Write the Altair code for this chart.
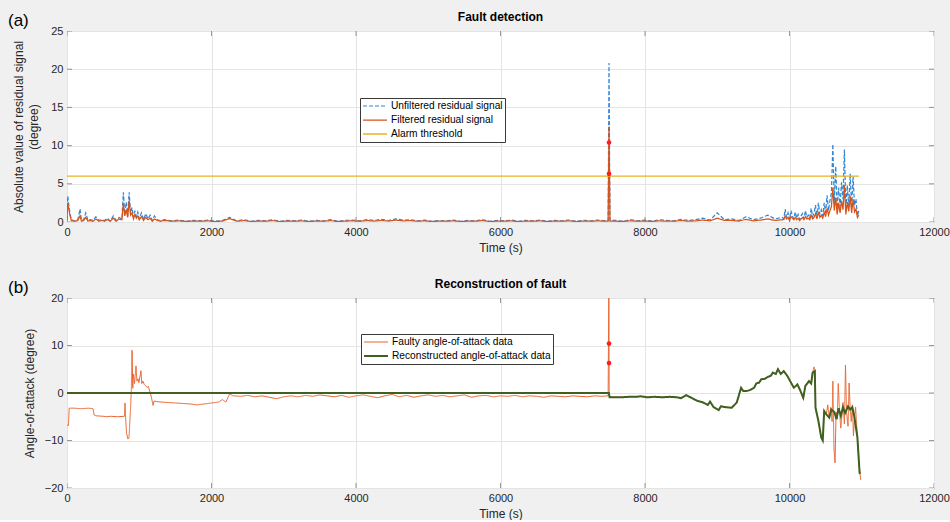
import altair as alt
import pandas as pd

FONT = "Liberation Sans"

# ---------------- (a) Fault detection : residual signals ----------------
res_time = [
    0, 10, 20, 40, 60, 90, 120, 150, 180, 200, 230, 260, 290, 320, 360, 400, 440, 480, 520, 560,
    600, 640, 680, 720, 760, 780, 800, 820, 840, 860, 880, 900, 920, 940, 960, 980, 1000, 1030, 1060, 1090,
    1120, 1150, 1180, 1210, 1250, 1290,
    1350, 1450, 1550, 1650, 1750, 1850, 1950, 2050, 2150, 2250, 2350, 2450, 2550, 2650, 2750, 2850, 2950,
    3050, 3150, 3250, 3350, 3450, 3550, 3650, 3750, 3850, 3950, 4050, 4150, 4250, 4350, 4450, 4550, 4650,
    4750, 4850, 4950, 5050, 5150, 5250, 5350, 5450, 5550, 5650, 5750, 5850, 5950, 6050, 6150, 6250, 6350,
    6450, 6550, 6650, 6750, 6850, 6950, 7050, 7150, 7250, 7350, 7450,
    7490, 7502, 7515,
    7600, 7700, 7800, 7900, 8000, 8100, 8200, 8300, 8400, 8500, 8600, 8700, 8800, 8900, 9000, 9100, 9200,
    9300, 9400, 9500, 9600, 9700, 9800, 9900,
    9920, 9940, 9960, 9980, 10000, 10020, 10040, 10060, 10080, 10100, 10120, 10140, 10160, 10180, 10200,
    10220, 10240, 10260, 10280, 10300, 10320, 10340, 10360, 10380, 10400, 10420, 10440, 10460, 10480, 10500,
    10520, 10540, 10560, 10580, 10600, 10620, 10640, 10660, 10680, 10700, 10720, 10740, 10760, 10780, 10800,
    10820, 10840, 10860, 10880, 10900, 10920, 10940, 10960,
]
res_unfiltered = [
    0.3, 3.4, 2.6, 1.2, 0.3, 0.2, 0.1, 0.3, 1.7, 0.2, 0.3, 1.2, 0.2, 0.3, 0.2, 0.7, 0.2, 0.3, 0.2, 0.5,
    0.1, 0.8, 0.2, 0.6, 0.4, 3.9, 1.0, 2.6, 0.8, 3.9, 1.2, 1.9, 0.6, 1.5, 0.7, 1.3, 0.4, 1.2, 0.3, 1.1,
    0.4, 0.9, 0.2, 0.8, 0.3, 0.2,
    0.3, 0.15, 0.25, 0.1, 0.2, 0.15, 0.25, 0.1, 0.2, 0.6, 0.15, 0.3, 0.1, 0.2, 0.15, 0.3, 0.1,
    0.2, 0.15, 0.25, 0.1, 0.2, 0.15, 0.3, 0.1, 0.2, 0.25, 0.15, 0.3, 0.2, 0.35, 0.2, 0.4, 0.25,
    0.3, 0.15, 0.25, 0.1, 0.2, 0.15, 0.25, 0.1, 0.2, 0.15, 0.3, 0.1, 0.2, 0.15, 0.25, 0.1, 0.2,
    0.15, 0.25, 0.1, 0.2, 0.15, 0.25, 0.1, 0.2, 0.15, 0.25, 0.15,
    0.2, 20.8, 0.2,
    0.2, 0.1, 0.3, 0.15, 0.25, 0.1, 0.3, 0.2, 0.15, 0.35, 0.2, 0.3, 0.5, 0.25, 1.2, 0.3, 0.4,
    0.2, 0.7, 0.3, 0.5, 0.9, 0.4, 0.6,
    0.4, 1.7, 0.6, 1.2, 0.3, 1.5, 0.8, 0.4, 1.3, 0.5, 1.0, 0.3, 0.8, 1.1, 0.4,
    1.5, 0.6, 0.9, 0.5, 1.8, 0.7, 1.2, 2.2, 0.6, 2.5, 1.0, 1.6, 0.8, 2.5, 1.2,
    3.5, 1.5, 2.8, 3.8, 10.2, 2.5, 7.3, 1.8, 4.5, 2.0, 5.2, 3.0, 9.5, 1.5, 4.8,
    2.0, 6.3, 1.8, 6.0, 2.2, 3.0, 0.8, 1.5,
]
res_filtered = [
    0.2, 2.5, 2.0, 0.9, 0.2, 0.1, 0.1, 0.2, 0.8, 0.1, 0.2, 0.6, 0.1, 0.2, 0.1, 0.4, 0.1, 0.2, 0.1, 0.3,
    0.1, 0.5, 0.1, 0.4, 0.3, 2.4, 0.8, 1.6, 0.6, 2.8, 0.9, 1.2, 0.4, 1.0, 0.5, 0.8, 0.3, 0.7, 0.2, 0.6,
    0.3, 0.5, 0.1, 0.4, 0.2, 0.1,
    0.2, 0.1, 0.15, 0.08, 0.12, 0.1, 0.15, 0.06, 0.12, 0.45, 0.1, 0.18, 0.06, 0.12, 0.1, 0.18, 0.06,
    0.12, 0.1, 0.15, 0.06, 0.12, 0.1, 0.18, 0.06, 0.12, 0.15, 0.1, 0.18, 0.12, 0.2, 0.12, 0.25, 0.15,
    0.18, 0.1, 0.15, 0.06, 0.12, 0.1, 0.15, 0.06, 0.12, 0.1, 0.18, 0.06, 0.12, 0.1, 0.15, 0.06, 0.12,
    0.1, 0.15, 0.06, 0.12, 0.1, 0.15, 0.06, 0.12, 0.1, 0.15, 0.1,
    0.12, 12.5, 0.12,
    0.1, 0.08, 0.15, 0.1, 0.12, 0.08, 0.15, 0.1, 0.1, 0.2, 0.1, 0.15, 0.25, 0.15, 0.5, 0.2, 0.2,
    0.12, 0.35, 0.15, 0.25, 0.4, 0.2, 0.3,
    0.3, 0.8, 0.4, 0.6, 0.2, 0.7, 0.5, 0.3, 0.6, 0.3, 0.5, 0.2, 0.4, 0.6, 0.3,
    0.7, 0.4, 0.5, 0.3, 0.9, 0.4, 0.6, 1.1, 0.4, 1.3, 0.6, 0.9, 0.5, 1.3, 0.7,
    1.8, 0.9, 1.5, 2.0, 4.5, 1.5, 3.2, 1.0, 2.5, 1.2, 2.8, 1.6, 4.8, 1.0, 2.6,
    1.4, 3.4, 1.2, 3.0, 1.3, 1.7, 0.6, 0.9,
]
threshold_time = [0, 10960]
threshold_value = [6, 6]

# red fault markers (same instant in both panels)
marker_time = [7502, 7502]
marker_value = [10.4, 6.3]

# ---------------- (b) Reconstruction of fault : angle of attack ----------------
faulty_time = [
    0, 20, 30, 100, 200, 300, 360, 375, 400, 500, 550, 600, 700, 795, 803, 812, 825, 844, 858, 870,
    880, 890, 900, 910, 920, 935, 955, 968, 982, 995, 1024, 1035, 1050, 1070, 1090, 1110, 1125, 1150,
    1170, 1190, 1204, 1240, 1300, 1400, 1500, 1600, 1700, 1800, 1900, 2000, 2100, 2150, 2200, 2250, 2300,
    2400, 2500, 2600, 2700, 2800, 2900, 3000, 3100, 3200, 3300, 3400, 3500, 3600, 3700, 3800, 3900,
    4000, 4100, 4200, 4300, 4400, 4500, 4600, 4700, 4800, 4900, 5000, 5100, 5200, 5300, 5400, 5500,
    5600, 5700, 5800, 5900, 6000, 6100, 6200, 6300, 6400, 6500, 6600, 6700, 6800, 6900, 7000, 7100,
    7200, 7300, 7400,
    7490, 7500, 7505,
    7600, 7680, 7780, 7880, 7940, 8030, 8130, 8240, 8340, 8440, 8500, 8570, 8640, 8730, 8790, 8870,
    8900, 8950, 9020, 9050, 9120, 9200, 9270, 9330, 9360, 9400, 9450, 9510, 9540, 9580, 9610, 9660,
    9700, 9740, 9770, 9810, 9840, 9880, 9920, 9970, 10020, 10060, 10110, 10150, 10190, 10220, 10270,
    10300, 10320, 10340, 10355, 10360, 10400, 10440, 10460, 10480, 10510, 10530, 10550, 10570, 10590,
    10600, 10615, 10630, 10645, 10660, 10675, 10690, 10710, 10725, 10740, 10760, 10775, 10790, 10810,
    10825, 10840, 10855, 10870, 10885, 10900, 10915, 10940, 10960, 10985,
]
faulty_value = [
    -6.8, -6.8, -3.2, -3.2, -3.3, -3.2, -3.3, -4.6, -4.8, -4.9, -5.0, -4.9, -5.0, -4.9, -2.1, -5.5,
    -8.5, -9.7, -9.4, -6.0, -3.0, 0.5, 9.0, 1.0, 4.0, 2.0, 5.7, 2.5, 3.0, 2.2, 4.7, 2.0, 2.5, 1.8,
    1.5, 1.2, 1.4, 0.2, -1.0, -2.6, -1.7, -1.8, -1.9, -2.0, -2.1, -2.2, -2.3, -2.5, -2.3, -2.1, -1.9,
    -1.4, -1.9, -0.2, -0.6,
    -0.7, -0.5, -0.8, -0.6, -0.9, -1.2, -0.8, -0.6, -0.8, -0.5, -0.7, -0.4, -0.6, -0.8, -0.5, -0.9,
    -0.6, -0.4, -0.7, -1.0, -0.6, -0.3, -0.8, -0.5, -0.9, -0.6, -0.4, -0.7, -0.5, -0.8, -0.6, -0.4,
    -0.9, -0.6, -0.5, -0.8, -0.6, -0.7, -0.5, -0.8, -0.6, -0.7, -0.9, -0.6, -0.7, -0.8, -0.6, -0.7,
    -0.8, -0.6, -0.7,
    -0.6, 25.0, -0.8,
    -0.9, -0.9, -0.8, -0.8, -0.7, -0.9, -0.8, -0.9, -0.8, -0.9, -1.1, -0.45, -1.0, -1.7, -1.9, -2.5,
    -1.8, -3.0, -3.6, -2.8, -3.0, -3.1, -2.0, 1.1, 0.4, 0.4, 0.6, 1.1, 2.0, 2.2, 2.9, 3.0,
    3.4, 3.6, 4.3, 4.0, 5.2, 4.0, 4.8, 3.6, 2.2, 1.1, 1.8, 0.5, -1.2, 1.5, 2.5,
    2.0, 4.3, 5.5, 4.6, -3.1, -5.9, -9.4, -10.0, -3.8, -4.5, -2.5, -5.2, -3.0, -6.0,
    2.5, -11.5, -14.7, -4.0, -5.5, 2.0, -3.2, -7.4, -4.8, -2.0, -6.5, 5.9, -4.2, -7.0,
    2.1, -3.5, -6.0, -2.5, -9.0, -5.2, -3.0, -9.4, -14.5, -18.3,
]
recon_time = [
    0, 7500, 7510, 7600, 7680, 7780, 7880, 7940, 8030, 8130, 8240, 8340, 8440, 8500, 8570, 8640,
    8730, 8790, 8870, 8900, 8950, 9020, 9050, 9120, 9200, 9270, 9330, 9360, 9400, 9450, 9510, 9540,
    9580, 9610, 9660, 9700, 9740, 9770, 9810, 9840, 9880, 9920, 9970, 10020, 10060, 10110, 10150,
    10190, 10220, 10270, 10300, 10320, 10350, 10360, 10400, 10440, 10460, 10480, 10510, 10550, 10580,
    10620, 10650, 10680, 10710, 10740, 10770, 10810, 10840, 10870, 10900, 10940, 10970, 10980,
]
recon_value = [
    0, 0, -0.9, -0.9, -0.9, -0.8, -0.8, -0.7, -0.9, -0.8, -0.9, -0.8, -0.9, -1.1, -0.45, -1.0,
    -1.7, -1.9, -2.5, -1.8, -3.0, -3.6, -2.8, -3.0, -3.1, -2.0, 1.1, 0.4, 0.4, 0.6, 1.1, 2.0,
    2.2, 2.9, 3.0, 3.4, 3.6, 4.3, 4.0, 5.0, 4.0, 4.6, 3.6, 2.2, 1.1, 1.8, 0.5,
    -1.0, 1.5, 2.5, 2.0, 4.3, 4.6, -3.1, -5.9, -9.4, -10.0, -3.8, -4.5, -5.2, -3.5,
    -4.0, -5.5, -3.2, -4.8, -3.0, -4.2, -2.8, -3.5, -3.0, -5.2, -9.4, -16.8, -17.0,
]

x_ticks = [0, 2000, 4000, 6000, 8000, 10000, 12000]
y_ticks_a = [0, 5, 10, 15, 20, 25]
y_ticks_b = [-20, -10, 0, 10, 20]

names_a = ["Unfiltered residual signal", "Filtered residual signal", "Alarm threshold"]
names_b = ["Faulty angle-of-attack data", "Reconstructed angle-of-attack data"]

# ---------------- tables ----------------
df_a = pd.concat([
    pd.DataFrame({"t": res_time, "v": res_unfiltered, "series": names_a[0]}),
    pd.DataFrame({"t": res_time, "v": res_filtered, "series": names_a[1]}),
    pd.DataFrame({"t": threshold_time, "v": threshold_value, "series": names_a[2]}),
], ignore_index=True)
df_b = pd.concat([
    pd.DataFrame({"t": faulty_time, "v": faulty_value, "series": names_b[0]}),
    pd.DataFrame({"t": recon_time, "v": recon_value, "series": names_b[1]}),
], ignore_index=True)
df_mark = pd.DataFrame({"t": marker_time, "v": marker_value})

W = 867


def make_panel(df, names, colors, dash_range, width_range, y_domain, y_vals, y_title,
               title, tag, leg_x, leg_y, height, y_title_pad):
    xs = alt.Scale(domain=[0, 12000], nice=False, zero=False)
    ys = alt.Scale(domain=y_domain, nice=False, zero=False)
    xa = alt.Axis(title="Time (s)", values=x_ticks, format="d", labelPadding=4,
                  titlePadding=5, labelFlush=False)
    ya = alt.Axis(title=y_title, values=y_vals, labelPadding=4, titlePadding=y_title_pad,
                  titleLineHeight=15)
    X = lambda f: alt.X(f, scale=xs, axis=xa)
    Y = lambda f: alt.Y(f, scale=ys, axis=ya)

    leg = alt.Legend(orient="none", legendX=leg_x, legendY=leg_y, title=None)

    tick_x = pd.DataFrame({"x": x_ticks * 2,
                           "y": [y_domain[0]] * len(x_ticks) + [y_domain[1]] * len(x_ticks)})
    tick_y = pd.DataFrame({"x": [0] * len(y_vals) + [12000] * len(y_vals), "y": y_vals * 2})

    tx = alt.Chart(tick_x).mark_tick(orient="vertical", size=10, thickness=1,
                                     color="#6e6e6e", clip=True).encode(x=X("x:Q"), y=Y("y:Q"))
    ty = alt.Chart(tick_y).mark_tick(orient="horizontal", size=10, thickness=1,
                                     color="#6e6e6e", clip=True).encode(x=X("x:Q"), y=Y("y:Q"))

    enc = dict(
        x=X("t:Q"), y=Y("v:Q"),
        color=alt.Color("series:N", scale=alt.Scale(domain=names, range=colors),
                        sort=names, legend=leg),
        strokeDash=alt.StrokeDash("series:N", scale=alt.Scale(domain=names, range=dash_range),
                                  sort=names, legend=leg),
        strokeWidth=alt.StrokeWidth("series:N", scale=alt.Scale(domain=names, range=width_range),
                                    sort=names, legend=leg),
    )
    lines = alt.Chart(df).mark_line(clip=True).encode(**enc)
    marks = alt.Chart(df_mark).mark_point(filled=True, shape="circle", size=22, color="#ff1f1f",
                                          opacity=1).encode(x=X("t:Q"), y=Y("v:Q"))
    lab = alt.Chart(pd.DataFrame({"lab": [tag]})).mark_text(
        align="left", baseline="middle", fontSize=17, font=FONT, color="#000"
    ).encode(x=alt.value(-59), y=alt.value(-10), text="lab:N")
    ttl = alt.Chart(pd.DataFrame({"lab": [title]})).mark_text(
        align="center", baseline="middle", fontSize=12, fontWeight="bold", font=FONT, color="#000"
    ).encode(x=alt.value(W / 2), y=alt.value(-14), text="lab:N")

    return alt.layer(tx, ty, lines, marks, lab, ttl).properties(width=W, height=height)


top = make_panel(
    df_a, names_a, ["#2f86d3", "#d95319", "#edb120"],
    [[4, 2], [1, 0], [1, 0]], [1.2, 1.3, 1.2],
    [0, 25], y_ticks_a, ["Absolute value of residual signal", "(degree)"],
    "Fault detection", "(a)", 293, 67, 191, 10,
)
bottom = make_panel(
    df_b, names_b, ["#e8622c", "#3f6020"],
    [[1, 0], [1, 0]], [1.0, 2.0],
    [-20, 20], y_ticks_b, "Angle-of-attack (degree)",
    "Reconstruction of fault", "(b)", 294, 36, 190, 8,
)

chart = alt.vconcat(top, bottom, spacing=76, bounds="flush").resolve_scale(
    color="independent", strokeDash="independent", strokeWidth="independent"
).resolve_legend(
    color="independent", strokeDash="independent", strokeWidth="independent"
).properties(
    padding={"left": 7, "top": 10, "right": 0, "bottom": 0},
    background="#f0f0f0",
).configure_view(
    fill="white", stroke="#7f7f7f", strokeWidth=1,
).configure_axis(
    labelFont=FONT, labelFontSize=11, labelColor="#262626",
    titleFont=FONT, titleFontSize=12, titleColor="#262626", titleFontWeight="normal",
    gridColor="#e4e4e4", gridWidth=1, domain=False, ticks=False,
).configure_legend(
    labelFont=FONT, labelFontSize=10.2, labelColor="#000", labelLimit=400,
    fillColor="white", strokeColor="#3a3a3a", strokeWidth=1, cornerRadius=0,
    padding=2, rowPadding=2, symbolType="stroke", symbolSize=576, clipHeight=12,
    symbolStrokeWidth=1.5, labelOffset=3, symbolOffset=0,
)

chart.save("out.html", embed_options={"renderer": "svg", "actions": False})
